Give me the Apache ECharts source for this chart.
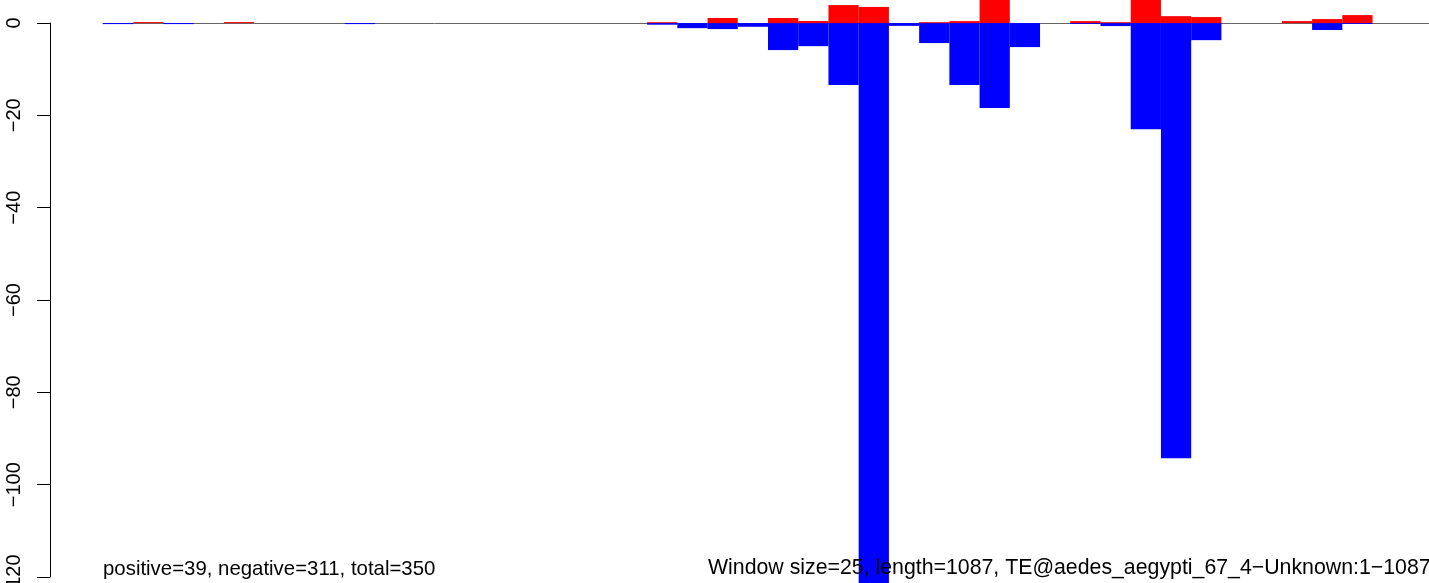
<!DOCTYPE html>
<html>
<head>
<meta charset="utf-8">
<script src="https://cdn.jsdelivr.net/npm/echarts@6/dist/echarts.min.js"></script>
<style>
  html, body { margin: 0; padding: 0; background: #fff; }
  #main { width: 1429px; height: 583px; }
</style>
</head>
<body>
<div id="main"></div>
<script>
// window start positions (bp), window size 25
var bins = [];
for (var b = 0; b < 44; b++) bins.push(String(b * 25));

// positive hits per window (red)
var posVals = [0, 0.22, 0, 0, 0.22, 0, 0, 0, 0, 0,
               0, 0, 0, 0, 0, 0, 0, 0, 0.2, 0,
               1.1, 0, 1.1, 0.45, 3.9, 3.5, 0, 0.2, 0.43, 11,
               0, 0, 0.43, 0.2, 10.5, 1.5, 1.3, 0, 0, 0.43,
               0.87, 1.73, 0, 0];
// negative hits per window (blue)
var negVals = [-0.22, 0, -0.22, 0, 0, 0, 0, 0, -0.22, 0,
               0, 0, 0, 0, 0, 0, 0, 0, -0.35, -1.1,
               -1.3, -0.8, -5.85, -5.0, -13.4, -124, -0.6, -4.33, -13.4, -18.4,
               -5.2, 0, -0.2, -0.65, -23.0, -94.3, -3.7, 0, 0, 0,
               -1.5, -0.2, 0, 0];

var leftText = 'positive=39, negative=311, total=350';
var rightText = 'Window size=25, length=1087, TE@aedes_aegypti_67_4\u2212Unknown:1\u22121087';

var FONT = '"Liberation Sans", Arial, Helvetica, sans-serif';

var chart = echarts.init(document.getElementById('main'));

var option = {
  backgroundColor: '#ffffff',
  animation: false,
  grid: [
    // plot area
    { left: 103, top: 0, width: 1330, height: 577, outerBoundsMode: 'none', containLabel: false },
    // separate grid only for the R style y axis (0 .. -120)
    { left: 50, top: 23, width: 1, height: 554, outerBoundsMode: 'none', containLabel: false }
  ],
  xAxis: [
    {
      gridIndex: 0,
      type: 'category',
      data: bins,
      boundaryGap: true,
      axisLine: { show: true, onZero: true, lineStyle: { color: '#666666', width: 1 } },
      axisTick: { show: false },
      axisLabel: { show: false },
      splitLine: { show: false }
    },
    {
      gridIndex: 1,
      type: 'value',
      show: false
    }
  ],
  yAxis: [
    {
      gridIndex: 0,
      type: 'value',
      min: -120,
      max: 5,
      show: false,
      splitLine: { show: false }
    },
    {
      gridIndex: 1,
      type: 'value',
      min: -120,
      max: 0,
      interval: 20,
      axisLine: { show: true, lineStyle: { color: '#000', width: 1 } },
      axisTick: { show: true, length: 13, lineStyle: { color: '#000', width: 1 } },
      axisLabel: {
        show: true,
        rotate: 90,
        margin: 26,
        color: '#000',
        fontSize: 20,
        fontFamily: FONT,
        formatter: function (v) { return String(v).replace('-', '\u2212'); }
      },
      splitLine: { show: false }
    }
  ],
  series: [
    {
      name: 'negative',
      type: 'bar',
      xAxisIndex: 0,
      yAxisIndex: 0,
      data: negVals,
      barWidth: '100%',
      barGap: '-100%',
      clip: false,
      itemStyle: { color: '#0000ff' }
    },
    {
      name: 'positive',
      type: 'bar',
      xAxisIndex: 0,
      yAxisIndex: 0,
      data: posVals,
      barWidth: '100%',
      barGap: '-100%',
      clip: false,
      itemStyle: { color: '#ff0000' }
    }
  ],
  graphic: [
    {
      type: 'text',
      x: 103,
      y: 579,
      z: 100,
      style: {
        text: leftText,
        fill: '#000',
        font: '20.4px ' + FONT,
        textAlign: 'left',
        textVerticalAlign: 'bottom'
      }
    },
    {
      type: 'text',
      x: 708,
      y: 579,
      z: 100,
      style: {
        text: rightText,
        fill: '#000',
        font: '21.3px ' + FONT,
        textAlign: 'left',
        textVerticalAlign: 'bottom'
      }
    }
  ]
};

chart.setOption(option);
</script>
</body>
</html>
